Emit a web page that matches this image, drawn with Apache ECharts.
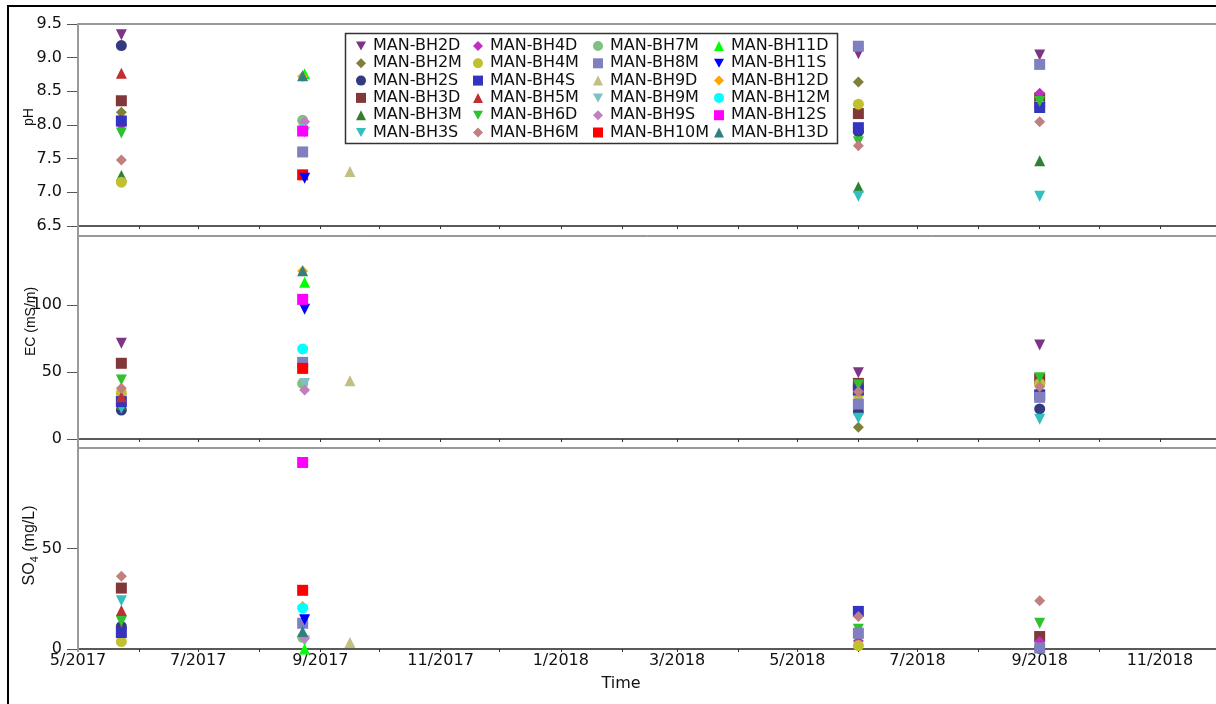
<!DOCTYPE html>
<html>
<head>
<meta charset="utf-8">
<script src="https://cdn.jsdelivr.net/npm/echarts@6/dist/echarts.min.js"></script>
<style>
  html, body { margin: 0; padding: 0; background: #fff; }
  #chart { width: 1216px; height: 704px; }
</style>
</head>
<body>
<div id="chart"></div>
<script>
// wells, in legend order
const wells = [
  'MAN-BH2D', 'MAN-BH2M', 'MAN-BH2S', 'MAN-BH3D', 'MAN-BH3M', 'MAN-BH3S',
  'MAN-BH4D', 'MAN-BH4M', 'MAN-BH4S', 'MAN-BH5M', 'MAN-BH6D', 'MAN-BH6M',
  'MAN-BH7M', 'MAN-BH8M', 'MAN-BH9D', 'MAN-BH9M', 'MAN-BH9S', 'MAN-BH10M',
  'MAN-BH11D', 'MAN-BH11S', 'MAN-BH12D', 'MAN-BH12M', 'MAN-BH12S', 'MAN-BH13D'
];

// sampling rounds (columns of the value tables below)
const sampleDates = ['2017-05-23', '2017-08-23', '2017-08-24', '2017-09-16', '2018-06-01', '2018-09-01'];

// pH, one row per well
const phValues = [
  [9.34, null, null, null, 9.06, 9.04],
  [8.19, null, null, null, 8.64, 8.33],
  [9.18, null, null, null, 7.90, 8.28],
  [8.36, null, null, null, 8.17, 8.40],
  [7.25, null, null, null, 7.08, 7.47],
  [8.03, null, null, null, 6.94, 6.94],
  [8.00, null, null, null, 7.95, 8.47],
  [7.15, null, null, null, 8.31, 8.30],
  [8.06, null, null, null, 7.96, 8.26],
  [8.77, null, null, null, null, null],
  [7.88, null, null, null, 7.75, 8.35],
  [7.48, null, null, null, 7.69, 8.05],
  [null, 8.07, null, null, null, null],
  [null, 7.60, null, null, 9.17, 8.90],
  [null, null, null, 7.31, null, null],
  [null, null, 7.89, null, null, null],
  [null, null, 8.05, null, null, null],
  [null, 7.26, null, null, null, null],
  [null, null, 8.76, null, null, null],
  [null, null, 7.21, null, null, null],
  [null, 8.72, null, null, null, null],
  [null, 7.93, null, null, null, null],
  [null, 7.91, null, null, null, null],
  [null, 8.73, null, null, null, null]
];

// EC (mS/m)
const ecValues = [
  [71.4, null, null, null, 49.5, 70.1],
  [30.0, null, null, null, 8.7, 44.0],
  [21.6, null, null, null, 20.4, 22.4],
  [56.5, null, null, null, 41.5, 45.0],
  [26.0, null, null, null, 38.0, 44.0],
  [22.9, null, null, null, 15.4, 14.7],
  [33.0, null, null, null, 33.0, 35.3],
  [34.6, null, null, null, 33.0, 41.5],
  [27.9, null, null, null, 36.6, 33.0],
  [31.6, null, null, null, null, null],
  [44.0, null, null, null, 40.3, 45.8],
  [37.8, null, null, null, 35.3, 39.0],
  [null, 41.5, null, null, null, null],
  [null, 57.2, null, null, 26.1, 31.1],
  [null, null, null, 43.5, null, null],
  [null, null, 41.5, null, null, null],
  [null, null, 36.6, null, null, null],
  [null, 52.7, null, null, null, null],
  [null, null, 116.9, null, null, null],
  [null, null, 96.8, null, null, null],
  [null, 125.3, null, null, null, null],
  [null, 67.2, null, null, null, null],
  [null, 104.2, null, null, null, null],
  [null, 125.6, null, null, null, null]
];

// SO4 (mg/L)
const so4Values = [
  [null, null, null, null, null, null],
  [null, null, null, null, null, null],
  [11.2, null, null, null, null, 0.3],
  [30.3, null, null, null, null, 6.2],
  [null, null, null, null, null, null],
  [24.0, null, null, null, null, null],
  [9.0, null, null, null, 4.0, 3.7],
  [3.7, null, null, null, 1.7, null],
  [8.2, null, null, null, 18.7, null],
  [19.2, null, null, null, null, null],
  [13.7, null, null, null, 9.8, 12.8],
  [36.2, null, null, null, 16.2, 24.0],
  [null, 5.8, null, null, null, null],
  [null, 12.8, null, null, 7.8, 0.5],
  [null, null, null, 3.2, null, null],
  [null, null, 4.0, null, null, null],
  [null, null, 5.3, null, null, null],
  [null, 29.2, null, null, null, null],
  [null, null, 0.0, null, null, null],
  [null, null, 14.5, null, null, null],
  [null, 21.2, null, null, null, null],
  [null, 20.3, null, null, null, null],
  [null, 92.8, null, null, null, null],
  [null, 8.7, null, null, null, null]
];

// axis ticks
const monthTicks = [
  '2017-05-01', '2017-06-01', '2017-07-01', '2017-08-01', '2017-09-01', '2017-10-01',
  '2017-11-01', '2017-12-01', '2018-01-01', '2018-02-01', '2018-03-01', '2018-04-01',
  '2018-05-01', '2018-06-01', '2018-07-01', '2018-08-01', '2018-09-01', '2018-10-01', '2018-11-01'
];
const monthLabels = [
  '2017-05-01', '2017-07-01', '2017-09-01', '2017-11-01', '2018-01-01',
  '2018-03-01', '2018-05-01', '2018-07-01', '2018-09-01', '2018-11-01'
];
const ecTicks = [0, 50, 100];
const so4Ticks = [0, 50];

// marker styles
const downTri = 'path://M0,0L10,0L5,9Z';
const wellSymbols = [
  downTri, 'diamond', 'circle', 'rect', 'triangle', downTri,
  'diamond', 'circle', 'rect', 'triangle', downTri, 'diamond',
  'circle', 'rect', 'triangle', downTri, 'diamond', 'rect',
  'triangle', downTri, 'diamond', 'circle', 'rect', 'triangle'
];
const wellColors = [
  '#7d3386', '#7f7f3a', '#333a80', '#803838', '#308030', '#33bfbf',
  '#c030c0', '#c0c030', '#3434c0', '#c03030', '#30c030', '#c08080',
  '#80c080', '#8080c0', '#c0c080', '#80c0c0', '#c080c0', '#ff0000',
  '#00ff00', '#0000ff', '#ffa500', '#00ffff', '#ff00ff', '#308080'
];

function toTime(s) {
  let p = s.split('-').map(Number);
  return new Date(p[0], p[1] - 1, p[2]).getTime();
}
function fmtMonth(v) {
  let d = new Date(v);
  return (d.getMonth() + 1) + '/' + d.getFullYear();
}

const hFont = 'DejaVu Sans';
const vFont = 'Liberation Sans';
const panelTops = [24, 236, 448];
const panelHeights = [202, 203, 201];

var myChart = echarts.init(document.getElementById('chart'));

let series = [];
[phValues, ecValues, so4Values].forEach((rows, p) => {
  wells.forEach((name, i) => {
    let data = [];
    rows[i].forEach((v, j) => {
      if (v !== null) data.push([toTime(sampleDates[j]), v]);
    });
    series.push({
      type: 'scatter',
      name: name,
      xAxisIndex: p,
      yAxisIndex: p,
      data: data,
      symbol: wellSymbols[i],
      symbolSize: 11,
      itemStyle: { color: wellColors[i], opacity: 1 },
      emphasis: { disabled: true },
      z: 2
    });
  });
});

let legendLefts = [356, 473, 593, 714];
let nameGaps = [42, 40, 38];

var option = {
  animation: false,
  backgroundColor: '#fff',
  grid: panelTops.map((t, p) => ({
    left: 78,
    right: -3,
    top: t,
    height: panelHeights[p],
    show: true,
    borderColor: '#333',
    borderWidth: 1,
    outerBoundsMode: 'none'
  })),
  xAxis: [0, 1, 2].map((p) => ({
    type: 'value',
    gridIndex: p,
    min: toTime('2017-05-01'),
    max: toTime('2018-12-01'),
    axisLine: { show: true, lineStyle: { color: '#444', width: 1.5 } },
    axisTick: {
      show: true,
      length: 3,
      lineStyle: { color: '#333' },
      customValues: monthTicks.map(toTime)
    },
    axisLabel: {
      show: p === 2,
      customValues: monthLabels.map(toTime),
      formatter: fmtMonth,
      margin: 4,
      fontFamily: hFont,
      fontSize: 16,
      color: '#111'
    },
    splitLine: { show: false },
    name: p === 2 ? 'Time' : '',
    nameLocation: 'middle',
    nameGap: 27,
    nameMoveOverlap: false,
    nameTextStyle: { fontFamily: hFont, fontSize: 16, color: '#111', padding: [0, 55, 0, 0] }
  })),
  yAxis: [
    {
      type: 'value',
      gridIndex: 0,
      min: 6.5,
      max: 9.5,
      interval: 0.5,
      name: 'pH',
      nameTextStyle: { fontFamily: vFont, fontSize: 14, color: '#111', padding: [0, 0, 0, 16] }
    },
    {
      type: 'value',
      gridIndex: 1,
      min: 0,
      max: 151.5,
      name: 'EC (mS/m)',
      nameTextStyle: { fontFamily: vFont, fontSize: 14, color: '#111', padding: [0, 0, 0, 32] }
    },
    {
      type: 'value',
      gridIndex: 2,
      min: 0,
      max: 100,
      name: '{t|SO}{s|4}{t| (mg/L)}',
      nameTextStyle: {
        color: '#111',
        padding: [0, 0, 0, 6],
        rich: {
          t: { fontFamily: vFont, fontSize: 16, color: '#111', lineHeight: 20 },
          s: { fontFamily: vFont, fontSize: 11, color: '#111', verticalAlign: 'bottom', lineHeight: 20 }
        }
      }
    }
  ].map((ax, p) => Object.assign(ax, {
    nameLocation: 'middle',
    nameGap: nameGaps[p],
    nameMoveOverlap: false,
    axisLine: { show: true, lineStyle: { color: '#999', width: 2 } },
    axisTick: Object.assign({
      show: true,
      length: 11,
      lineStyle: { color: '#555' }
    }, p === 1 ? { customValues: ecTicks } : p === 2 ? { customValues: so4Ticks } : {}),
    axisLabel: Object.assign({
      margin: 16,
      fontFamily: hFont,
      fontSize: 16,
      color: '#111',
      formatter: p === 0 ? (v) => Number(v).toFixed(1) : (v) => String(v)
    }, p === 1 ? { customValues: ecTicks } : p === 2 ? { customValues: so4Ticks } : {}),
    splitLine: { show: false }
  })),
  legend: [0, 1, 2, 3].map((c) => ({
    data: wells.slice(c * 6, c * 6 + 6),
    orient: 'vertical',
    left: legendLefts[c],
    top: 38,
    padding: 0,
    itemWidth: 10,
    itemHeight: 10,
    itemGap: 1.3,
    selectedMode: false,
    z: 6,
    textStyle: {
      fontFamily: hFont,
      fontSize: 16,
      color: '#111',
      padding: [0, 0, 0, 2]
    }
  })),
  graphic: [
    {
      type: 'rect',
      z: 5,
      shape: { x: 345.5, y: 33.5, width: 492, height: 110 },
      style: { fill: '#fff', stroke: '#333', lineWidth: 1.5 }
    },
    {
      type: 'line',
      z: 5,
      shape: { x1: 78, y1: 24, x2: 78, y2: 652 },
      style: { stroke: '#999', lineWidth: 2 }
    },
    {
      type: 'rect',
      z: 10,
      shape: { x: 8, y: 6, width: 1300, height: 800 },
      style: { fill: 'none', stroke: '#000', lineWidth: 2 }
    }
  ],
  series: series
};

myChart.setOption(option);
</script>
</body>
</html>
